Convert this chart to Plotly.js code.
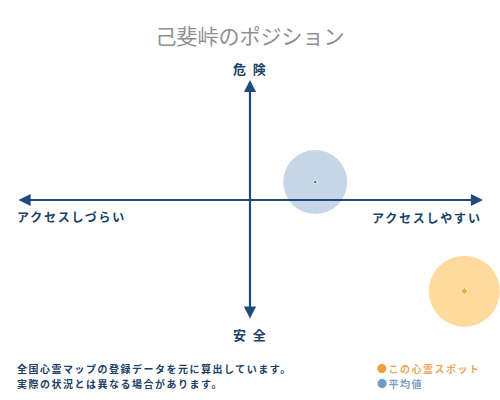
<!DOCTYPE html>
<html>
<head>
<meta charset="utf-8">
<script src="https://cdn.plot.ly/plotly-3.0.1.min.js"></script>
<style>
  html, body { margin: 0; padding: 0; background: #fff; }
  #chart { width: 500px; height: 400px; }
  /* spaced-out captions like the original */
  .annotation-text { letter-spacing: 0.15em; }
</style>
</head>
<body>
<div id="chart"></div>
<script>
/* =========================
   DATA
========================= */
const chartTitle = "己斐峠のポジション";
const seriesNames = ["この心霊スポット", "平均値"];
const seriesX = [9.2, 2.8];     // アクセス (-10 しづらい .. 10 しやすい)
const seriesY = [-7.6, 1.5];    // 危険度 (-10 安全 .. 10 危険)
const seriesColors = ["#fdca72", "#afc4db"];
const centerColors = ["#f0a020", "#1c3f66"];
const axisLabels = { top: "危 険", bottom: "安 全", left: "アクセスしづらい", right: "アクセスしやすい" };
const notes = ["全国心霊マップの登録データを元に算出しています。", "実際の状況とは異なる場合があります。"];
const legendColors = ["#f0a040", "#6f9bc8"];
const legendText = ["#eaa85a", "#7f9fc2"];

window.addEventListener("DOMContentLoaded", () => {

  const navy = "#1f4a7c";
  const font = "Noto Sans CJK JP";

  /* =========================
     BUBBLES
  ========================= */
  const traces = [
    {
      x: seriesX, y: seriesY,
      mode: "markers", type: "scatter",
      marker: { size: [71, 64], color: seriesColors, line: { width: 0 } },
      hoverinfo: "skip"
    },
    {
      x: seriesX, y: seriesY,
      mode: "markers", type: "scatter",
      marker: { size: [6, 3.5], color: centerColors, symbol: ["diamond", "circle"] },
      hoverinfo: "skip"
    }
  ];

  /* =========================
     ARROWS + LABELS
  ========================= */
  const arrow = (x, y, ax, ay) => ({
    x, y, ax, ay, xref: "x", yref: "y", axref: "x", ayref: "y",
    text: "", showarrow: true, arrowhead: 2, arrowsize: 1.1, arrowwidth: 2.2,
    arrowcolor: navy, arrowside: "end+start"
  });

  const label = (text, x, y, xanchor, size) => ({
    text, x, y, xref: "paper", yref: "paper", xanchor, yanchor: "middle",
    showarrow: false, font: { family: font, size, color: "#1c3f66", weight: "bold" }
  });

  const annotations = [
    arrow(10, 0, -10, 0),
    arrow(0, 10, 0, -10),
    label(axisLabels.top, 0.5, 1 - 68 / 400, "center", 13),
    label(axisLabels.bottom, 0.5, 1 - 334 / 400, "center", 13),
    label(axisLabels.left, 15 / 500, 1 - 216 / 400, "left", 12),
    label(axisLabels.right, 484 / 500, 1 - 217 / 400, "right", 12),
    label(notes[0], 15 / 500, 1 - 368 / 400, "left", 10),
    label(notes[1], 15 / 500, 1 - 383 / 400, "left", 10)
  ];

  seriesNames.forEach((n, i) => {
    annotations.push({
      text: `<span style="color:${legendColors[i]}">●</span><span style="color:${legendText[i]}">${n}</span>`,
      x: 375 / 500, y: 1 - (368 + i * 15) / 400, xref: "paper", yref: "paper",
      xanchor: "left", yanchor: "middle", showarrow: false,
      font: { family: font, size: 10, weight: "bold" }
    });
  });

  const layout = {
    width: 500, height: 400,
    margin: { l: 0, r: 0, t: 0, b: 0 },
    paper_bgcolor: "#fff", plot_bgcolor: "#fff",
    showlegend: false,
    title: {
      text: chartTitle, x: 0.5, xanchor: "center", y: 1 - 29 / 400, yref: "container",
      font: { family: font, size: 21, color: "#8f8f8f", weight: "normal" }
    },
    xaxis: { range: [-10.73, 10.73], visible: false, fixedrange: true },
    yaxis: { range: [-16.67, 16.67], visible: false, fixedrange: true },
    annotations
  };

  Plotly.newPlot("chart", traces, layout, { staticPlot: true });

});
</script>
</body>
</html>
